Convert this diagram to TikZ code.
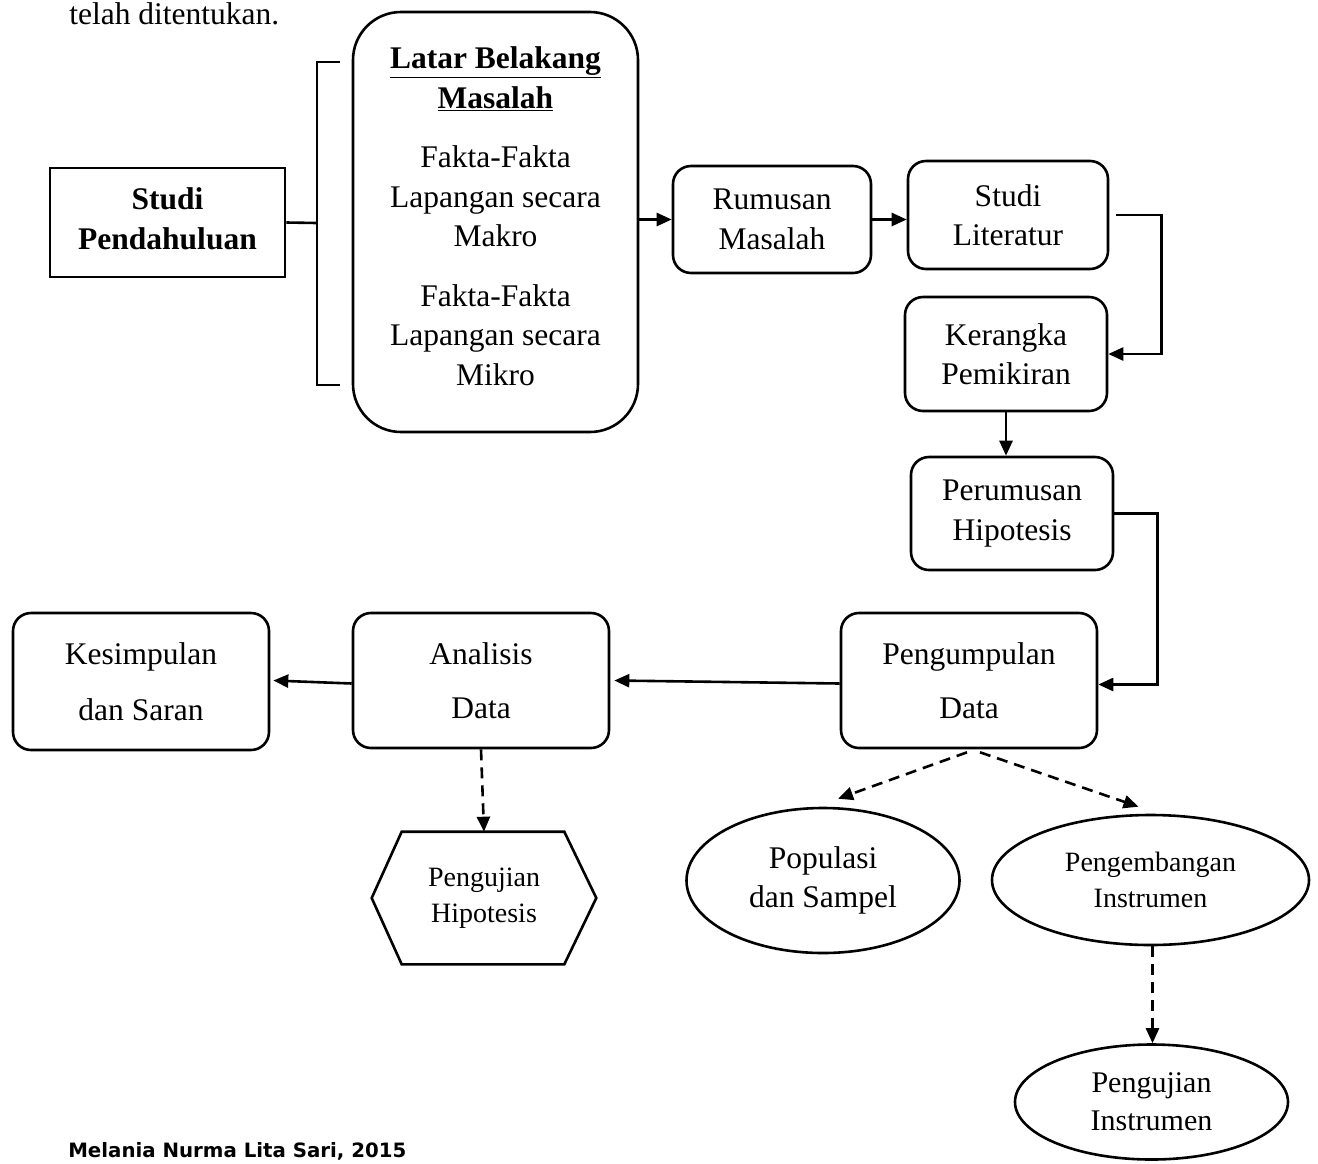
\documentclass[tikz,border=0pt]{standalone}
\usepackage{fontspec}
\setmainfont{Liberation Serif}
\newfontfamily\footfont{DejaVu Sans}
\usetikzlibrary{arrows.meta,shapes.geometric}
\newcommand{\fbig}{\fontsize{31.5}{39.5}\selectfont}
\newcommand{\fsmall}{\fontsize{28}{36}\selectfont}
\begin{document}
\begin{tikzpicture}[x=1pt,y=-1pt,line width=2.6pt,
  box/.style={draw,rounded corners=18pt,align=center,inner sep=0pt,font=\fbig},
  ell/.style={draw,ellipse,align=center,inner sep=0pt,font=\fbig},
  arr/.style={-{Triangle[length=15pt,width=13pt]}},
  dsh/.style={dash pattern=on 11pt off 7pt}]
\useasboundingbox (0,0) rectangle (1318,1163);
\clip (0,0) rectangle (1318,1163);
\fill[white] (0,0) rectangle (1318,1163);

% header and footer
\node[anchor=base west,inner sep=0pt,font=\fbig] (top) at (68,24) {telah ditentukan.};
\node[anchor=base west,inner sep=0pt] (foot) at (67,1157) {\resizebox{338pt}{!}{\footfont\bfseries Melania Nurma Lita Sari, 2015}};

% boxes
\node[draw,minimum width=235pt,minimum height=109pt] (studi) at (167.5,222.5) {};
\node[align=center,inner sep=0pt,font=\fbig\bfseries] (studitxt) at (167.5,219) {Studi\\Pendahuluan};
\node[draw,rounded corners=48pt,minimum width=285pt,minimum height=420pt] (big) at (495.5,222) {};
\node[align=center,inner sep=0pt,font=\fbig] (bigtxt) at (495.5,216) {\underline{\textbf{Latar Belakang}}\\\underline{\textbf{Masalah}}\\[20pt]Fakta-Fakta\\Lapangan secara\\Makro\\[20pt]Fakta-Fakta\\Lapangan secara\\Mikro};
\node[box,minimum width=198pt,minimum height=107pt] (rum) at (772,219.5) {Rumusan\\Masalah};
\node[box,minimum width=200pt,minimum height=108pt] (lit) at (1008,215) {Studi\\Literatur};
\node[box,minimum width=202pt,minimum height=114pt] (ker) at (1006,354) {Kerangka\\Pemikiran};
\node[box,minimum width=202pt,minimum height=113pt] (per) at (1012,513.5) {Perumusan\\Hipotesis};
\node[box,minimum width=256pt,minimum height=135pt] (peng) at (969,680.5) {Pengumpulan\\[15pt]Data};
\node[box,minimum width=256pt,minimum height=135pt] (ana) at (481,680.5) {Analisis\\[15pt]Data};
\node[box,minimum width=256pt,minimum height=137pt] (kes) at (141,681.5) {Kesimpulan\\[16pt]dan Saran};

% hexagon
\node[align=center,inner sep=0pt,font=\fsmall,minimum height=130pt,minimum width=222pt] (hex) at (484,898) {Pengujian\\Hipotesis};
\draw (hex.west) -- ([xshift=30pt]hex.north west) -- ([xshift=-32pt]hex.north east) -- (hex.east) -- ([xshift=-32pt]hex.south east) -- ([xshift=30pt]hex.south west) -- cycle;

% ellipses
\node[ell,minimum width=273pt,minimum height=145pt] (pop) at (823,880.5) {Populasi\\dan Sampel};
\node[ell,font=\fsmall,minimum width=317pt,minimum height=130pt] (pgb) at (1150.5,880) {Pengembangan\\Instrumen};
\node[ell,font=\fontsize{30}{38}\selectfont,minimum width=273pt,minimum height=115pt] (pui) at (1151.5,1102) {Pengujian\\Instrumen};

% bracket
\coordinate (brk) at (317,223);
\draw (340,62) -- (317,62) -- (317,385) -- (340,385);
\draw (studi.east) -- (brk);

% connectors
\draw[arr] (big.east |- rum.west) -- (rum.west);
\draw[arr] (rum.east) -- (rum.east -| lit.west);
\draw[arr] ([xshift=7pt]lit.east) -- ++(45,0) |- (ker.east);
\draw[arr] (ker.south) -- (ker.south |- per.north);
\draw[arr] (per.east) -- ++(43,0) |- ([yshift=-4pt]peng.east);
\draw[arr] ([yshift=-3pt]peng.west) -- ([xshift=4pt]ana.east);
\draw[arr] ([yshift=-3pt]ana.west) -- ([xshift=3pt,yshift=1pt]kes.east);
\draw[arr,dsh] (ana.south) -- (hex.north);
\draw[arr,dsh] ([xshift=-2pt,yshift=-3pt]peng.south) -- ([xshift=15pt,yshift=8pt]pop.north);
\draw[arr,dsh] ([xshift=11pt,yshift=-3pt]peng.south) -- ([xshift=-12pt,yshift=7pt]pgb.north);
\draw[arr,dsh] ([xshift=2pt]pgb.south) -- ([xshift=1pt]pui.north);
\end{tikzpicture}
\end{document}
